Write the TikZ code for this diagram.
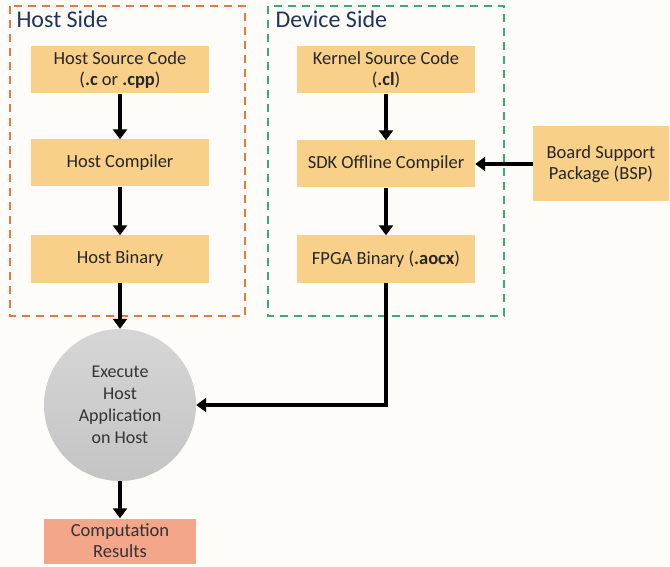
\documentclass[tikz,border=0pt]{standalone}
\usepackage{fontspec}
\setmainfont{Carlito}
\usetikzlibrary{arrows.meta,positioning}
\definecolor{boxfill}{HTML}{F9D08A}
\definecolor{resfill}{HTML}{F3A68A}
\definecolor{hostdash}{HTML}{E07A45}
\definecolor{devdash}{HTML}{3FA874}
\definecolor{titlecol}{HTML}{1F3559}
\definecolor{circtop}{HTML}{D6D6D6}
\definecolor{circbot}{HTML}{C4C4C4}
\definecolor{bgcol}{HTML}{FEFCF8}
\tikzset{
  stepbox/.style={draw=none, fill=boxfill, minimum width=178pt, minimum height=47pt, align=center, font=\fontsize{18.5}{21}\selectfont, text=black!85, inner sep=2pt},
  conn/.style={line width=3.6pt, -{Triangle[width=14pt,length=10pt]}},
  sidebox/.style={line width=1.8pt, dash pattern=on 8pt off 6pt},
  sidetitle/.style={anchor=west, font=\fontsize{24}{28}\selectfont, text=titlecol}
}
\begin{document}
\begin{tikzpicture}[x=1pt,y=-1pt]
\fill[bgcol] (0,0) rectangle (670,567);
\useasboundingbox (0,0) rectangle (670,567);
% side frames
\draw[sidebox, draw=hostdash] (10,6) rectangle (245,316);
\draw[sidebox, draw=devdash] (268,6) rectangle (504,316);
\node[sidetitle] (hosttitle) at (13,19) {Host Side};
\node[sidetitle] (devtitle) at (272,19) {Device Side};
% host column
\node[stepbox] (hsrc) at (120,70) {Host Source Code\\(\textbf{.c} or \textbf{.cpp})};
\node[stepbox] (hcomp) at (120,163) {Host Compiler};
\node[stepbox] (hbin) at (120,259) {Host Binary};
% device column
\node[stepbox] (ksrc) at (386,70) {Kernel Source Code\\(\textbf{.cl})};
\node[stepbox] (sdk) at (386,164) {SDK Offline Compiler};
\node[stepbox] (fbin) at (386,259) {FPGA Binary (\textbf{.aocx})};
% BSP
\node[stepbox, minimum width=136pt, minimum height=75pt] (bsp) at (601,164) {Board Support\\Package (BSP)};
% execute circle
\node[circle, minimum size=152pt, inner sep=0pt, top color=circtop, bottom color=circbot, align=center, font=\fontsize{18}{22}\selectfont, text=black!80] (exec) at (120,405) {Execute\\Host\\Application\\on Host};
% results
\node[stepbox, fill=resfill, minimum width=152pt, minimum height=45pt, text=black!80] (res) at (120,541) {Computation\\Results};
% connectors
\draw[conn] (hsrc) -- (hcomp);
\draw[conn] (hcomp) -- (hbin);
\draw[conn] (hbin) -- (exec);
\draw[conn] (ksrc) -- (sdk);
\draw[conn] (sdk) -- (fbin);
\draw[conn] (bsp) -- (sdk);
\draw[conn] (fbin.south) |- (exec.east);
\draw[conn] (exec) -- (res);
\end{tikzpicture}
\end{document}
